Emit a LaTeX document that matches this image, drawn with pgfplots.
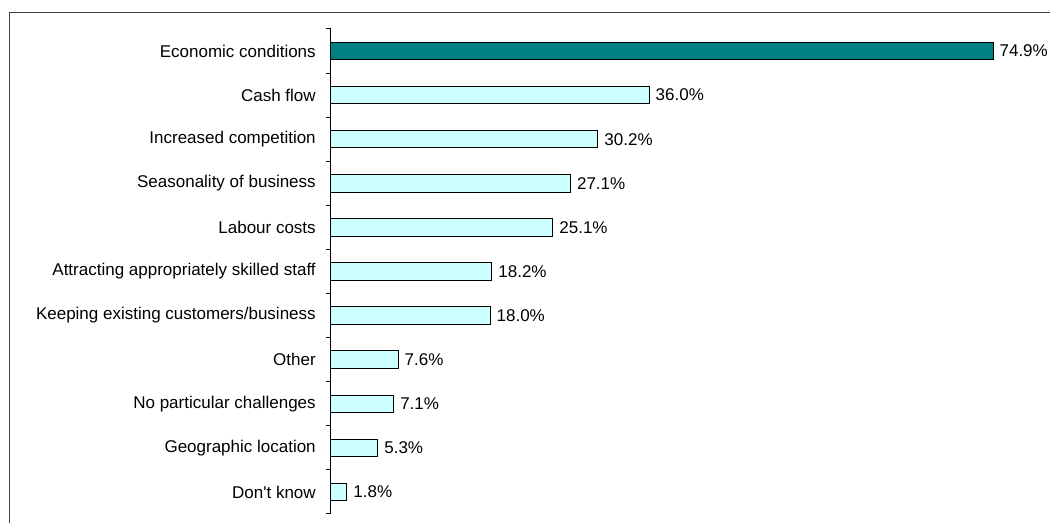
\documentclass[border=0pt]{standalone}
\usepackage{pgfplots}
\pgfplotsset{compat=1.18}
\usepackage{fontspec}
\setmainfont{Liberation Sans}
\definecolor{tealbar}{HTML}{008080}
\definecolor{cyanbar}{HTML}{CCFFFF}
\definecolor{framegray}{HTML}{404040}
\begin{document}
\begin{tikzpicture}
\useasboundingbox (0,0) rectangle (787.5pt,392.25pt);
\draw[framegray, line width=0.75pt] (6.75pt,-2pt) -- (6.75pt,382.7pt) -- (792pt,382.7pt);
\begin{axis}[
  at={(248.25pt,6.75pt)}, anchor=south west,
  scale only axis, width=530.4pt, height=363.75pt,
  xbar, bar width=13.1pt, bar shift=0pt,
  xmin=0, xmax=80,
  ymin=-0.5, ymax=10.5, y dir=reverse,
  axis x line=none, axis y line*=left,
  axis line style={black, line width=0.75pt},
  ytick={0,...,10},
  yticklabels={Economic conditions,Cash flow,Increased competition,Seasonality of business,Labour costs,Attracting appropriately skilled staff,Keeping existing customers/business,Other,No particular challenges,Geographic location,{Don\textquotesingle t know}},
  major tick length=0pt,
  minor ytick={-0.5,0.5,...,10.5},
  minor tick length=3.75pt,
  tick align=outside,
  minor tick style={black, line width=0.75pt},
  yticklabel style={anchor=east, inner sep=0pt, xshift=-11.25pt, font=\fontsize{12.75}{15}\selectfont},
  /pgf/number format/assume math mode=true,
  nodes near coords={\pgfmathprintnumber[fixed,precision=1,zerofill,assume math mode=true]{\pgfplotspointmeta}\%},
  point meta=explicit,
  nodes near coords style={anchor=west, inner sep=0pt, xshift=4.5pt, font=\fontsize{12.75}{15}\selectfont, text=black},
  every axis plot/.append style={draw=black, line width=0.75pt},
  clip=false,
]
\addplot[fill=tealbar] coordinates {(74.9,0) [74.9]};
\addplot[fill=cyanbar] coordinates {
(36.0,1) [36.0]
(30.2,2) [30.2]
(27.1,3) [27.1]
(25.1,4) [25.1]
(18.2,5) [18.2]
(18.0,6) [18.0]
(7.6,7) [7.6]
(7.1,8) [7.1]
(5.3,9) [5.3]
(1.8,10) [1.8]
};
\end{axis}
\end{tikzpicture}
\end{document}
